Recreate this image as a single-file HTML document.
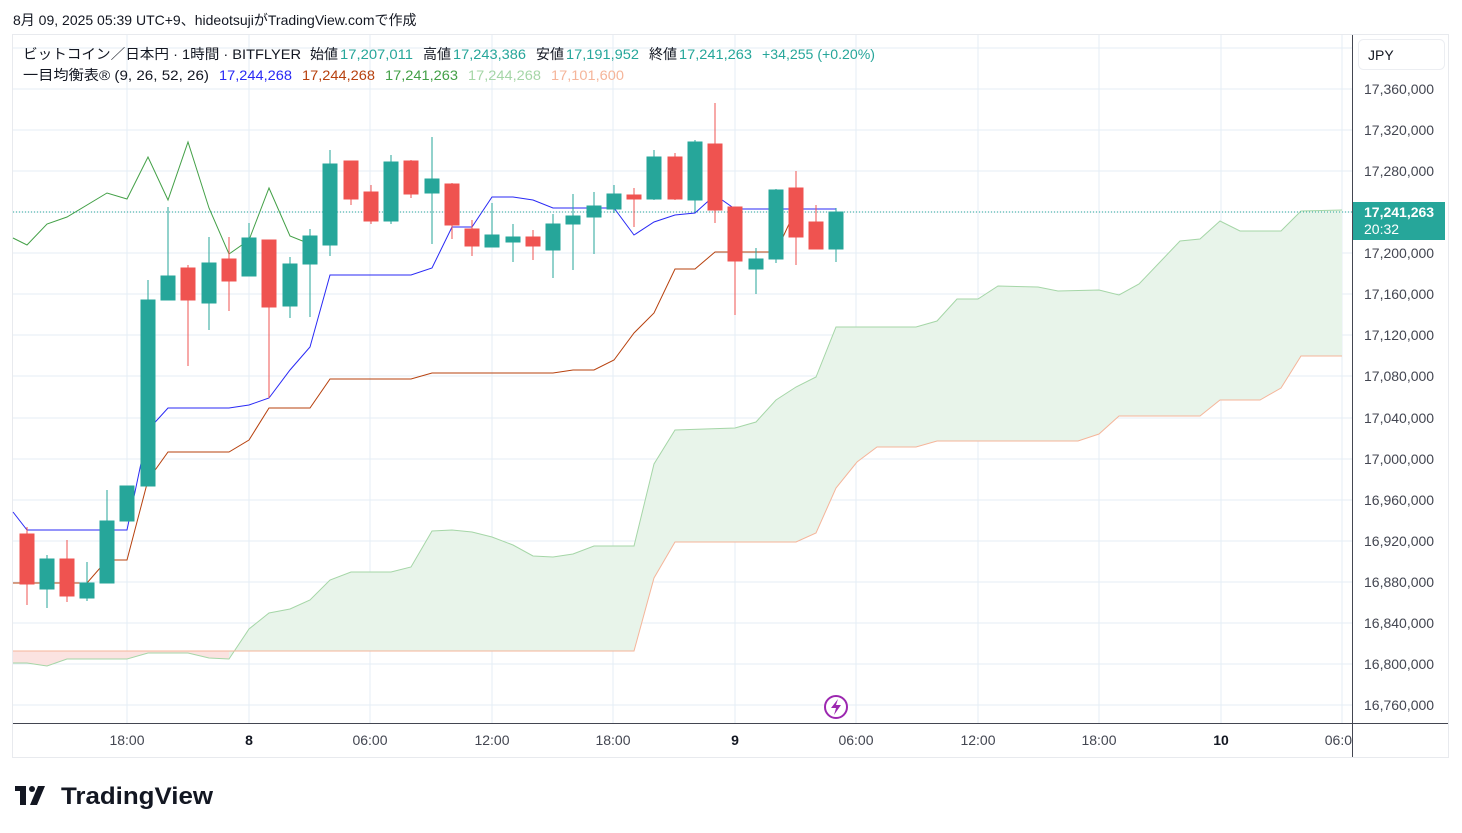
<!DOCTYPE html>
<html><head><meta charset="utf-8"><style>
body{margin:0;background:#fff;width:1462px;height:833px;overflow:hidden;font-family:"Liberation Sans","Noto Sans CJK JP",sans-serif;}
svg{position:absolute;left:0;top:0}
</style></head><body>
<svg width="1462" height="833" xmlns="http://www.w3.org/2000/svg" font-family="Liberation Sans, Noto Sans CJK JP, sans-serif">
<text x="13" y="25" font-size="14" fill="#131722">8月 09, 2025 05:39 UTC+9、hideotsujiがTradingView.comで作成</text>
<rect x="12.5" y="34.5" width="1436" height="723" fill="none" stroke="#e8eaee"/>
<g stroke="#e4eef6" stroke-width="1">
<line x1="13" x2="1352" y1="48" y2="48"/><line x1="13" x2="1352" y1="89" y2="89"/><line x1="13" x2="1352" y1="130" y2="130"/><line x1="13" x2="1352" y1="171" y2="171"/><line x1="13" x2="1352" y1="212" y2="212"/><line x1="13" x2="1352" y1="253" y2="253"/><line x1="13" x2="1352" y1="294" y2="294"/><line x1="13" x2="1352" y1="335" y2="335"/><line x1="13" x2="1352" y1="376" y2="376"/><line x1="13" x2="1352" y1="418" y2="418"/><line x1="13" x2="1352" y1="459" y2="459"/><line x1="13" x2="1352" y1="500" y2="500"/><line x1="13" x2="1352" y1="541" y2="541"/><line x1="13" x2="1352" y1="582" y2="582"/><line x1="13" x2="1352" y1="623" y2="623"/><line x1="13" x2="1352" y1="664" y2="664"/><line x1="13" x2="1352" y1="705" y2="705"/>
<line x1="127" x2="127" y1="35" y2="723"/><line x1="249" x2="249" y1="35" y2="723"/><line x1="370" x2="370" y1="35" y2="723"/><line x1="492" x2="492" y1="35" y2="723"/><line x1="613" x2="613" y1="35" y2="723"/><line x1="735" x2="735" y1="35" y2="723"/><line x1="856" x2="856" y1="35" y2="723"/><line x1="978" x2="978" y1="35" y2="723"/><line x1="1099" x2="1099" y1="35" y2="723"/><line x1="1221" x2="1221" y1="35" y2="723"/><line x1="1342" x2="1342" y1="35" y2="723"/>
</g>
<polygon fill="#fbe0de" opacity="0.9" points="13,651 229,651 229,659 209,658 188,653 148,653 127,659 67,659 47,666 27,663 13,663"/>
<polygon fill="#e8f4ea" points="229,659 249,629 269,613 290,609 310,600 330,580 351,572 391,572 411,567 432,531 452,530 472,532 492,537 513,545 533,556 553,557 573,554 594,546 634,546 654,464 675,430 735,428 756,422 776,400 796,387 816,377 836,327 916,327 937,321 957,299 978,299 998,286 1038,287 1058,291 1099,290 1119,295 1139,284 1160,262 1180,241 1200,239 1220,221 1240,231 1281,231 1301,211 1342,210 1342,356 1301,356 1281,388 1260,400 1220,400 1200,416 1119,416 1099,434 1078,441 937,441 916,447 877,447 857,462 836,488 816,533 796,542 675,542 654,578 634,651 229,651"/>
<polyline fill="none" stroke="#a5d6a7" stroke-width="1" points="13,663 27,663 47,666 67,659 127,659 148,653 188,653 209,658 229,659 249,629 269,613 290,609 310,600 330,580 351,572 391,572 411,567 432,531 452,530 472,532 492,537 513,545 533,556 553,557 573,554 594,546 634,546 654,464 675,430 735,428 756,422 776,400 796,387 816,377 836,327 916,327 937,321 957,299 978,299 998,286 1038,287 1058,291 1099,290 1119,295 1139,284 1160,262 1180,241 1200,239 1220,221 1240,231 1281,231 1301,211 1342,210"/>
<polyline fill="none" stroke="#f5b59a" stroke-width="1" points="13,651 229,651 634,651 654,578 675,542 796,542 816,533 836,488 857,462 877,447 916,447 937,441 1078,441 1099,434 1119,416 1200,416 1220,400 1260,400 1281,388 1301,356 1342,356"/>
<polyline fill="none" stroke="#43a047" stroke-width="1" points="13,238 27,245 47,224 67,217 107,193 127,199 148,157 168,200 188,142 209,208 229,254 249,240 269,188 290,236 310,244"/>
<polyline fill="none" stroke="#b7410e" stroke-width="1" points="13,583 87,583 107,560 127,560 148,480 168,452 229,452 249,440 269,408 310,408 330,379 411,379 432,373 553,373 573,370 594,370 614,360 634,333 654,313 675,269 695,269 715,252 776,252 796,209 836,209"/>
<polyline fill="none" stroke="#2929f5" stroke-width="1" points="13,512 27,530 127,530 148,430 168,408 229,408 249,405 269,398 290,370 310,347 330,275 411,275 432,268 452,227 472,227 492,197 513,197 533,200 553,208 614,208 634,235 654,222 675,215 695,213 715,195 735,209 836,209"/>
<line x1="13" x2="1352" y1="212" y2="212" stroke="#26a69a" stroke-dasharray="1,2"/>
<g stroke-width="1">
<g stroke="#ef5350" fill="#ef5350">
<line x1="27" x2="27" y1="527" y2="605"/><rect x="20" y="534" width="14" height="50"/>
<line x1="67" x2="67" y1="540" y2="602"/><rect x="60" y="559" width="14" height="37"/>
<line x1="188" x2="188" y1="265" y2="366"/><rect x="181" y="268" width="14" height="32"/>
<line x1="229" x2="229" y1="237" y2="311"/><rect x="222" y="259" width="14" height="22"/>
<line x1="269" x2="269" y1="240" y2="398"/><rect x="262" y="240" width="14" height="67"/>
<line x1="351" x2="351" y1="161" y2="205"/><rect x="344" y="161" width="14" height="38"/>
<line x1="371" x2="371" y1="185" y2="224"/><rect x="364" y="192" width="14" height="29"/>
<line x1="411" x2="411" y1="160" y2="198"/><rect x="404" y="161" width="14" height="33"/>
<line x1="452" x2="452" y1="183" y2="239"/><rect x="445" y="184" width="14" height="41"/>
<line x1="472" x2="472" y1="220" y2="256"/><rect x="465" y="229" width="14" height="17"/>
<line x1="533" x2="533" y1="230" y2="260"/><rect x="526" y="237" width="14" height="9"/>
<line x1="634" x2="634" y1="188" y2="227"/><rect x="627" y="195" width="14" height="4"/>
<line x1="675" x2="675" y1="153" y2="200"/><rect x="668" y="157" width="14" height="42"/>
<line x1="715" x2="715" y1="103" y2="223"/><rect x="708" y="144" width="14" height="66"/>
<line x1="735" x2="735" y1="207" y2="315"/><rect x="728" y="207" width="14" height="54"/>
<line x1="796" x2="796" y1="171" y2="265"/><rect x="789" y="188" width="14" height="49"/>
<line x1="816" x2="816" y1="205" y2="249"/><rect x="809" y="222" width="14" height="27"/>
</g>
<g stroke="#26a69a" fill="#26a69a">
<line x1="47" x2="47" y1="555" y2="608"/><rect x="40" y="559" width="14" height="30"/>
<line x1="87" x2="87" y1="562" y2="601"/><rect x="80" y="583" width="14" height="15"/>
<line x1="107" x2="107" y1="490" y2="583"/><rect x="100" y="521" width="14" height="62"/>
<line x1="127" x2="127" y1="486" y2="521"/><rect x="120" y="486" width="14" height="35"/>
<line x1="148" x2="148" y1="280" y2="486"/><rect x="141" y="300" width="14" height="186"/>
<line x1="168" x2="168" y1="207" y2="300"/><rect x="161" y="276" width="14" height="24"/>
<line x1="209" x2="209" y1="237" y2="330"/><rect x="202" y="263" width="14" height="40"/>
<line x1="249" x2="249" y1="223" y2="276"/><rect x="242" y="238" width="14" height="38"/>
<line x1="290" x2="290" y1="257" y2="318"/><rect x="283" y="264" width="14" height="42"/>
<line x1="310" x2="310" y1="229" y2="317"/><rect x="303" y="236" width="14" height="28"/>
<line x1="330" x2="330" y1="150" y2="256"/><rect x="323" y="164" width="14" height="81"/>
<line x1="391" x2="391" y1="155" y2="224"/><rect x="384" y="162" width="14" height="59"/>
<line x1="432" x2="432" y1="137" y2="244"/><rect x="425" y="179" width="14" height="14"/>
<line x1="492" x2="492" y1="203" y2="247"/><rect x="485" y="235" width="14" height="12"/>
<line x1="513" x2="513" y1="224" y2="262"/><rect x="506" y="237" width="14" height="5"/>
<line x1="553" x2="553" y1="214" y2="278"/><rect x="546" y="224" width="14" height="26"/>
<line x1="573" x2="573" y1="194" y2="270"/><rect x="566" y="216" width="14" height="8"/>
<line x1="594" x2="594" y1="192" y2="254"/><rect x="587" y="206" width="14" height="11"/>
<line x1="614" x2="614" y1="185" y2="213"/><rect x="607" y="194" width="14" height="15"/>
<line x1="654" x2="654" y1="150" y2="200"/><rect x="647" y="157" width="14" height="42"/>
<line x1="695" x2="695" y1="140" y2="212"/><rect x="688" y="142" width="14" height="58"/>
<line x1="756" x2="756" y1="248" y2="294"/><rect x="749" y="259" width="14" height="10"/>
<line x1="776" x2="776" y1="189" y2="263"/><rect x="769" y="190" width="14" height="69"/>
<line x1="836" x2="836" y1="208" y2="262"/><rect x="829" y="212" width="14" height="37"/>
</g>
</g>
<circle cx="836" cy="707" r="11" fill="#fff" stroke="#9c27b0" stroke-width="2"/>
<path d="M838,699 L831,708 L836,708 L834,715 L841,705 L836,705 Z" fill="#9c27b0"/>
<line x1="13" x2="1448" y1="723.5" y2="723.5" stroke="#434651"/>
<line x1="1352.5" x2="1352.5" y1="35" y2="757" stroke="#434651"/>
<g font-size="14" fill="#131722">
<text x="23" y="59" textLength="278" lengthAdjust="spacingAndGlyphs">ビットコイン／日本円 · 1時間 · BITFLYER</text>
<text x="310" y="59">始値</text><text x="340" y="59" fill="#26a69a" textLength="73" lengthAdjust="spacingAndGlyphs">17,207,011</text>
<text x="423" y="59">高値</text><text x="453" y="59" fill="#26a69a" textLength="73" lengthAdjust="spacingAndGlyphs">17,243,386</text>
<text x="536" y="59">安値</text><text x="566" y="59" fill="#26a69a" textLength="73" lengthAdjust="spacingAndGlyphs">17,191,952</text>
<text x="649" y="59">終値</text><text x="679" y="59" fill="#26a69a" textLength="73" lengthAdjust="spacingAndGlyphs">17,241,263</text>
<text x="762" y="59" fill="#26a69a" textLength="113" lengthAdjust="spacingAndGlyphs">+34,255 (+0.20%)</text>
<text x="23" y="80" textLength="186" lengthAdjust="spacingAndGlyphs">一目均衡表® (9, 26, 52, 26)</text>
<text x="219" y="80" fill="#2929f5" textLength="73" lengthAdjust="spacingAndGlyphs">17,244,268</text>
<text x="302" y="80" fill="#b7410e" textLength="73" lengthAdjust="spacingAndGlyphs">17,244,268</text>
<text x="385" y="80" fill="#43a047" textLength="73" lengthAdjust="spacingAndGlyphs">17,241,263</text>
<text x="468" y="80" fill="#a5d6a7" textLength="73" lengthAdjust="spacingAndGlyphs">17,244,268</text>
<text x="551" y="80" fill="#f5b59a" textLength="73" lengthAdjust="spacingAndGlyphs">17,101,600</text>
</g>
<rect x="1358.5" y="39.5" width="86" height="30" rx="5" fill="#fff" stroke="#eceef2"/>
<text x="1368" y="60" font-size="14" fill="#131722">JPY</text>
<g font-size="14" fill="#434651">
<text x="1364" y="94">17,360,000</text><text x="1364" y="135">17,320,000</text><text x="1364" y="176">17,280,000</text><text x="1364" y="258">17,200,000</text><text x="1364" y="299">17,160,000</text><text x="1364" y="340">17,120,000</text><text x="1364" y="381">17,080,000</text><text x="1364" y="423">17,040,000</text><text x="1364" y="464">17,000,000</text><text x="1364" y="505">16,960,000</text><text x="1364" y="546">16,920,000</text><text x="1364" y="587">16,880,000</text><text x="1364" y="628">16,840,000</text><text x="1364" y="669">16,800,000</text><text x="1364" y="710">16,760,000</text>
</g>
<rect x="1353" y="202" width="92" height="38" fill="#26a69a"/>
<text x="1364" y="217" font-size="14" fill="#fff" font-weight="bold">17,241,263</text>
<text x="1364" y="234" font-size="14" fill="#fff">20:32</text>
<g font-size="14" fill="#434651" text-anchor="middle">
<text x="127" y="745">18:00</text><text x="249" y="745" font-weight="bold" fill="#131722">8</text><text x="370" y="745">06:00</text><text x="492" y="745">12:00</text><text x="613" y="745">18:00</text><text x="735" y="745" font-weight="bold" fill="#131722">9</text><text x="856" y="745">06:00</text><text x="978" y="745">12:00</text><text x="1099" y="745">18:00</text><text x="1221" y="745" font-weight="bold" fill="#131722">10</text>
</g>
<text x="1352" y="745" font-size="14" fill="#434651" text-anchor="end">06:0</text>
<g fill="#131722">
<rect x="15" y="786" width="11" height="5"/><rect x="20" y="786" width="6" height="19"/>
<circle cx="32" cy="789" r="3"/><path d="M38,786 L45,786 L37,805 L30,805 Z"/>
</g>
<text x="61" y="804" font-size="24" font-weight="bold" fill="#131722" textLength="152" lengthAdjust="spacingAndGlyphs">TradingView</text>
</svg>
</body></html>
